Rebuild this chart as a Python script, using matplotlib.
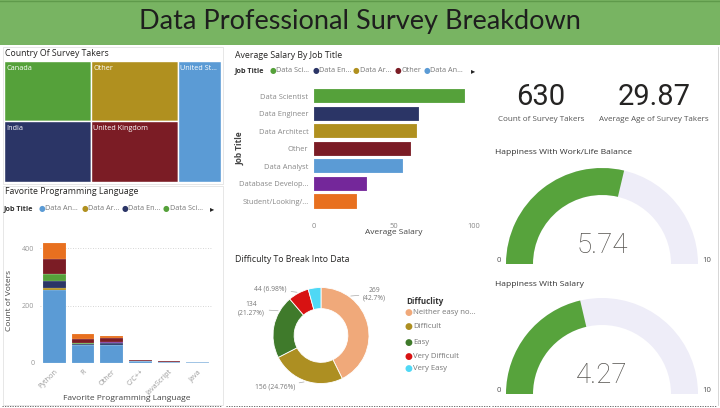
import matplotlib
matplotlib.use("Agg")
import matplotlib.pyplot as plt
from matplotlib.patches import Rectangle, Wedge
from matplotlib.lines import Line2D
import numpy as np

plt.rcParams['font.family'] = ['Open Sans', 'DejaVu Sans']

# ---------------- data ----------------
countries = ["Canada", "India", "Other", "United Kingdom", "United States"]
country_counts = [125, 127, 125, 127, 126]

languages = ["Python", "R", "Other", "C/C++", "JavaScript", "Java"]
job_titles = ["Data Analyst", "Data Architect", "Data Engineer", "Data Scientist",
              "Database Developer", "Other", "Student/Looking/None"]
lang_counts = {
    "Data Analyst":         [256, 62, 61, 5, 2, 1],
    "Data Architect":       [4, 1, 1, 0, 0, 0],
    "Data Engineer":        [25, 1, 7, 2, 1, 0],
    "Data Scientist":       [24, 4, 1, 0, 0, 0],
    "Database Developer":   [3, 2, 2, 0, 1, 0],
    "Other":                [52, 14, 14, 2, 1, 1],
    "Student/Looking/None": [54, 18, 8, 0, 2, 1],
}

salary_titles = ["Data Scientist", "Data Engineer", "Data Architect", "Other",
                 "Data Analyst", "Database Developer", "Student/Looking/None"]
salary_values = [94.3, 65.4, 64.2, 60.8, 55.5, 33.3, 26.6]
salary_ticks = [0, 50, 100]

difficulty = ["Neither easy nor difficult", "Difficult", "Easy", "Very Difficult", "Very Easy"]
difficulty_counts = [269, 156, 134, 44, 27]

kpi_count = "630"
kpi_age = "29.87"
happy_work = 5.74
happy_salary = 4.27
gauge_max = 10

# ---------------- styling ----------------
job_colors = {
    "Data Analyst": "#5b9bd5",
    "Data Architect": "#b0901f",
    "Data Engineer": "#2b3566",
    "Data Scientist": "#55a13a",
    "Database Developer": "#74279a",
    "Other": "#7b1c25",
    "Student/Looking/None": "#e8701f",
}
country_colors = {"Canada": "#55a13a", "India": "#2b3566", "Other": "#b0901f",
                  "United Kingdom": "#7b1c25", "United States": "#5b9bd5"}
diff_colors = ["#f0a97a", "#ad8f22", "#3f7a2b", "#d81212", "#4fd8f5"]

W, H = 720, 408
fig = plt.figure(figsize=(7.2, 4.08), dpi=100)
fig.patch.set_facecolor("white")


def fx(x):
    return x / W


def fy(y):
    return 1 - y / H


def add_ax(x0, y0, x1, y1):
    return fig.add_axes([x0 / W, 1 - y1 / H, (x1 - x0) / W, (y1 - y0) / H])


def ftext(x, y, s, **kw):
    return fig.text(fx(x), fy(y), s, **kw)


def frect(x0, y0, x1, y1, **kw):
    r = Rectangle((fx(x0), fy(y1)), (x1 - x0) / W, (y1 - y0) / H,
                  transform=fig.transFigure, **kw)
    fig.add_artist(r)
    return r


def fline(xs, ys, **kw):
    fig.add_artist(Line2D([fx(x) for x in xs], [fy(y) for y in ys],
                          transform=fig.transFigure, **kw))


TITLE_C = "#252423"
GRAY = "#777777"

# ---------------- header ----------------
frect(0, 0, 720, 45, facecolor="#78b462", edgecolor="none")
fline([0, 720], [0.5, 0.5], color="#5f9a4b", lw=1)
ftext(360, 22, "Data Professional Survey Breakdown", ha="center", va="center",
      fontsize=19.5, color="#1e1e1e", family=["Lato", "DejaVu Sans"], fontweight="normal")

# panel borders
frect(2.5, 47, 222.5, 184, facecolor="none", edgecolor="#e3e3e3", lw=0.6)
frect(2.5, 186, 222.5, 405, facecolor="none", edgecolor="#e3e3e3", lw=0.6)
fline([2, 222], [405.5, 405.5], color="#555555", lw=0.6, ls=(0, (1.5, 1.5)))
fline([226, 490], [405.5, 405.5], color="#555555", lw=0.6, ls=(0, (1.5, 1.5)))
fline([492, 716], [406, 406], color="#555555", lw=0.6, ls=(0, (1.5, 1.5)))
fline([717.5, 717.5], [47, 405], color="#d0d0d0", lw=0.6)

# ---------------- treemap ----------------
ftext(5, 53, "Country Of Survey Takers", ha="left", va="center", fontsize=6.3, color=TITLE_C)
ax_tm = add_ax(4, 61, 221, 182)
ax_tm.set_xlim(0, 1)
ax_tm.set_ylim(1, 0)
ax_tm.axis("off")
cc = dict(zip(countries, country_counts))
tm_columns = [["Canada", "India"], ["Other", "United Kingdom"], ["United States"]]
total = sum(country_counts)
x = 0
for col in tm_columns:
    csum = sum(cc[c] for c in col)
    w = csum / total
    y = 0
    for c in col:
        h = cc[c] / csum
        ax_tm.add_patch(Rectangle((x, y), w, h, facecolor=country_colors[c],
                                  edgecolor="white", lw=1.0))
        label = c if w * 217 > 60 else c[:9] + "..."
        ax_tm.text(x + 0.012, y + 0.06, label, color="white", fontsize=5.2,
                   ha="left", va="center")
        y += h
    x += w

# ---------------- stacked bar: favorite language ----------------
ftext(5, 192, "Favorite Programming Language", ha="left", va="center", fontsize=6.3, color=TITLE_C)
ftext(4, 208.5, "Job Title", ha="left", va="center", fontsize=5.2, color="#333333", fontweight="bold")
leg_items = [("Data An...", "Data Analyst", 41.5), ("Data Ar...", "Data Architect", 84.5),
             ("Data En...", "Data Engineer", 125), ("Data Sci...", "Data Scientist", 166)]
for lab, jt, xx in leg_items:
    ftext(xx, 208.5, "●", ha="center", va="center", fontsize=5.5, color=job_colors[jt],
          family="DejaVu Sans")
    ftext(xx + 3.5, 208.5, lab, ha="left", va="center", fontsize=5.2, color=GRAY)
ftext(212, 208.5, "▸", ha="center", va="center", fontsize=6, color="#222222", family="DejaVu Sans")

ax_pl = add_ax(40, 235, 212, 362.7)
xpos = np.arange(len(languages))
bottom = np.zeros(len(languages))
for jt in job_titles:
    vals = np.array(lang_counts[jt], dtype=float)
    ax_pl.bar(xpos, vals, width=0.79, bottom=bottom, color=job_colors[jt],
              edgecolor=(1, 1, 1, 0.35), linewidth=0.3)
    bottom += vals
ax_pl.set_xlim(-0.5, len(languages) - 0.5)
ax_pl.set_ylim(0, 447)
ax_pl.set_yticks([0, 200, 400])
ax_pl.set_yticklabels(["0", "200", "400"])
ax_pl.set_xticks(xpos)
ax_pl.set_xticklabels(languages, rotation=45, ha="right", rotation_mode="anchor")
ax_pl.tick_params(length=0, labelsize=5.2, labelcolor="#999999", pad=4)
ax_pl.grid(axis="y", color="#c8c8c8", ls=(0, (1, 2)), lw=0.6)
ax_pl.set_axisbelow(True)
for s in ax_pl.spines.values():
    s.set_visible(False)
ax_pl.set_facecolor("none")
ftext(10, 300, "Count of Voters", rotation=90, ha="center", va="center", fontsize=6, color="#444444")
ftext(127, 398.5, "Favorite Programming Language", ha="center", va="center", fontsize=6, color="#444444")

# ---------------- salary bars ----------------
ftext(235, 55, "Average Salary By Job Title", ha="left", va="center", fontsize=6.3, color=TITLE_C)
ftext(235, 70.5, "Job Title", ha="left", va="center", fontsize=5.2, color="#333333", fontweight="bold")
sal_leg = [("Data Sci...", "Data Scientist", 272.7), ("Data En...", "Data Engineer", 315.7),
           ("Data Ar...", "Data Architect", 356.3), ("Other", "Other", 398),
           ("Data An...", "Data Analyst", 427)]
for lab, jt, xx in sal_leg:
    ftext(xx, 70.5, "●", ha="center", va="center", fontsize=5.5, color=job_colors[jt],
          family="DejaVu Sans")
    ftext(xx + 3.5, 70.5, lab, ha="left", va="center", fontsize=5.2, color=GRAY)
ftext(473.5, 70.5, "▸", ha="center", va="center", fontsize=6, color="#222222", family="DejaVu Sans")

ax_sal = add_ax(314, 87.3, 474, 210.3)
ypos = np.arange(len(salary_titles))
ax_sal.barh(ypos, salary_values, height=0.8,
            color=[job_colors[t] for t in salary_titles],
            edgecolor=(1, 1, 1, 0.4), linewidth=0.3)
ax_sal.set_ylim(len(salary_titles) - 0.5, -0.5)
ax_sal.set_xlim(0, 100)
ax_sal.set_yticks(ypos)
ax_sal.set_yticklabels([t if len(t) <= 16 else t[:16] + "..." for t in salary_titles])
ax_sal.set_xticks(salary_ticks)
ax_sal.tick_params(length=0, labelsize=5.4, labelcolor="#888888")
ax_sal.tick_params(axis="y", pad=4)
ax_sal.tick_params(axis="x", pad=9)
for s in ax_sal.spines.values():
    s.set_visible(False)
ax_sal.set_facecolor("none")
ftext(240, 148, "Job Title", rotation=90, ha="center", va="center", fontsize=6, color="#444444",
      fontweight="bold")
ftext(394, 232, "Average Salary", ha="center", va="center", fontsize=6, color="#444444")

# ---------------- donut ----------------
ftext(235, 260, "Difficulty To Break Into Data", ha="left", va="center", fontsize=6.3, color=TITLE_C)
CX, CY, R = 321, 335.5, 48
ax_d = add_ax(CX - 60, CY - 60, CX + 60, CY + 60)
ax_d.pie(difficulty_counts, colors=diff_colors, startangle=90, counterclock=False, radius=1,
         wedgeprops=dict(width=0.44, edgecolor="white", linewidth=0.6))
ax_d.set_xlim(-1.25, 1.25)
ax_d.set_ylim(-1.25, 1.25)
tot = sum(difficulty_counts)


def pct(v):
    return f"{100 * v / tot:.2f}".rstrip("0").rstrip(".")


def d_xy(px, py):
    return ((px - CX) / R, -(py - CY) / R)


label_specs = [
    (0, 53, (363, 294), "left", True),
    (1, -110, (295, 387), "right", False),
    (2, 150, (265, 309), "right", True),
    (3, 119, (287, 289), "right", False),
]
for idx, ang, (px, py), ha, two in label_specs:
    v = difficulty_counts[idx]
    txt = f"{v}\n({pct(v)}%)" if two else f"{v} ({pct(v)}%)"
    a = np.deg2rad(ang)
    ax_d.annotate(txt, xy=(1.03 * np.cos(a), 1.03 * np.sin(a)), xytext=d_xy(px, py),
                  ha=ha, va="center", multialignment="center", fontsize=4.9, color="#777777",
                  arrowprops=dict(arrowstyle="-", color="#aaaaaa", lw=0.5,
                                  shrinkA=1, shrinkB=0), annotation_clip=False)

ftext(406, 301, "Diffuclity", ha="left", va="center", fontsize=5.8, color="#333333", fontweight="bold")
leg_y = [312, 327, 342, 356, 369]
for lab, col, yy in zip(difficulty, diff_colors, leg_y):
    short = lab if len(lab) <= 15 else lab[:15] + "..."
    ftext(408.5, yy, "●", ha="center", va="center", fontsize=6.5, color=col, family="DejaVu Sans")
    ftext(413, yy, short, ha="left", va="center", fontsize=5.6, color="#777777")

# ---------------- KPIs ----------------
kfam = ["Roboto", "DejaVu Sans"]
ftext(541, 97, kpi_count, ha="center", va="center", fontsize=21, color="#252423", family=kfam)
ftext(541, 119, "Count of Survey Takers", ha="center", va="center", fontsize=5.8, color="#555555")
ftext(654, 97, kpi_age, ha="center", va="center", fontsize=21, color="#252423", family=kfam)
ftext(654, 119, "Average Age of Survey Takers", ha="center", va="center", fontsize=5.8, color="#555555")


# ---------------- gauges ----------------
def gauge(cx, cy, value, title, ty):
    ftext(495, ty, title, ha="left", va="center", fontsize=6.1, color="#333333")
    ax = add_ax(cx - 105, cy - 100, cx + 105, cy + 3)
    ax.set_xlim(-105, 105)
    ax.set_ylim(-3, 100)
    ax.axis("off")
    Ro, wd = 96, 27
    ax.add_patch(Wedge((0, 0), Ro, 0, 180, width=wd, facecolor="#eeedf8", edgecolor="none"))
    ang = 180 - 180 * value / gauge_max
    ax.add_patch(Wedge((0, 0), Ro, ang, 180, width=wd, facecolor="#57a33c", edgecolor="none"))
    ax.text(0, 18.5, f"{value:.2f}", ha="center", va="center", fontsize=20, color="#55534f",
            family=kfam, fontweight="light")
    ftext(499, cy - 3, "0", ha="center", va="center", fontsize=5.6, color="#555555")
    ftext(707, cy - 3, str(gauge_max), ha="center", va="center", fontsize=5.6, color="#555555")


gauge(602, 264, happy_work, "Happiness With Work/Life Balance", 153)
gauge(602, 394, happy_salary, "Happiness With Salary", 284)

fig.savefig("out.png", dpi=100, facecolor="white")
